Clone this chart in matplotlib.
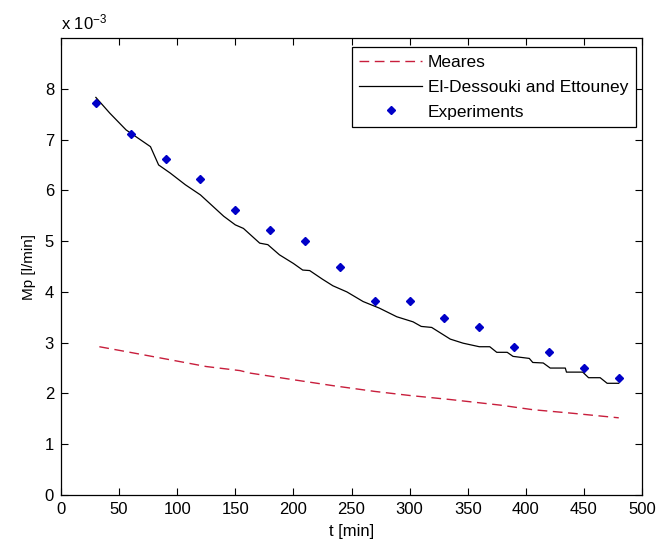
import matplotlib
matplotlib.use("Agg")
import matplotlib.pyplot as plt
import numpy as np

plt.rcParams['font.family'] = ['Liberation Sans', 'DejaVu Sans']
plt.rcParams['mathtext.fontset'] = 'custom'
plt.rcParams['mathtext.rm'] = 'Liberation Sans'
plt.rcParams['mathtext.it'] = 'Liberation Sans'

# Data (Mp in units of 1e-3 l/min)
t_exp = [30, 60, 90, 120, 150, 180, 210, 240, 270, 300, 330, 360, 390, 420, 450, 480]
mp_exp = [7.72, 7.11, 6.61, 6.22, 5.61, 5.22, 5.00, 4.50, 3.82, 3.82, 3.49, 3.31, 2.92, 2.81, 2.50, 2.31]

t_eld = [30, 42, 56, 77, 84, 94, 107, 120, 130, 140, 150, 157, 171, 178, 188, 200, 208, 214,
         225, 234, 246, 260, 274, 289, 303, 310, 319, 335, 346, 360, 369, 375, 384, 389, 403, 406,
         415, 421, 434, 435, 449, 454, 464, 470, 480]
mp_eld = [7.83, 7.52, 7.19, 6.86, 6.50, 6.34, 6.11, 5.91, 5.70, 5.49, 5.32, 5.25, 4.96, 4.93,
          4.73, 4.56, 4.43, 4.42, 4.25, 4.12, 4.00, 3.81, 3.68, 3.51, 3.41, 3.32, 3.30, 3.07, 2.99,
          2.92, 2.92, 2.81, 2.81, 2.73, 2.69, 2.61, 2.60, 2.50, 2.50, 2.42, 2.42, 2.31, 2.31, 2.20, 2.20]

t_mea = [33, 57, 97, 125, 154, 163, 200, 235, 270, 300, 335, 378, 406, 440, 480]
mp_mea = [2.92, 2.82, 2.65, 2.53, 2.45, 2.40, 2.27, 2.15, 2.04, 1.96, 1.88, 1.77, 1.68, 1.61, 1.52]

x_ticks = [0, 50, 100, 150, 200, 250, 300, 350, 400, 450, 500]
y_ticks = [0, 1, 2, 3, 4, 5, 6, 7, 8]

fig = plt.figure(figsize=(6.72, 5.45), dpi=100)
ax = fig.add_axes([61/672, 50/545, 581/672, 457/545])

ax.plot(t_mea, mp_mea, linestyle=(0, (7, 4)), color='#c81e3c', linewidth=1.0, label='Meares')
ax.plot(t_eld, mp_eld, color='black', linewidth=0.9, label='El-Dessouki and Ettouney')
ax.plot(t_exp, mp_exp, linestyle='none', marker='D', markersize=3.6, color='#0000c8',
        markeredgecolor='#0000c8', label='Experiments')

ax.set_xlim(0, 500)
ax.set_ylim(0, 9)
ax.set_xticks(x_ticks)
ax.set_yticks(y_ticks)
ax.tick_params(direction='in', top=True, right=True, length=5, width=0.8, labelsize=12, pad=5)
for s in ax.spines.values():
    s.set_linewidth(0.9)

ax.set_xlabel('t [min]', fontsize=12, labelpad=5)
ax.set_ylabel('Mp [l/min]', fontsize=11, labelpad=6)
ax.text(0.0, 1.012, r'x 10$^{-3}$', transform=ax.transAxes, fontsize=12, ha='left', va='bottom')

leg = ax.legend(loc='upper right', bbox_to_anchor=(0.99, 0.98), fontsize=12.5, frameon=True,
                fancybox=False, edgecolor='black', framealpha=1, borderpad=0.45,
                handlelength=3.6, handletextpad=0.35, labelspacing=0.55, borderaxespad=0)
leg.get_frame().set_linewidth(0.9)

fig.savefig('out.png', dpi=100)
